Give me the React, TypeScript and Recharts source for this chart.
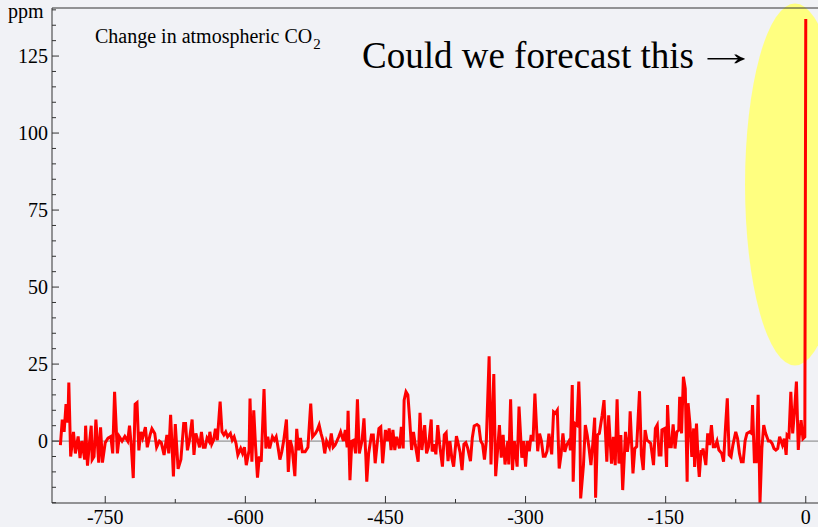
import React from "react";
import {
  LineChart,
  Line,
  XAxis,
  YAxis,
  ReferenceLine,
  ReferenceDot,
  Customized,
} from "recharts";

// years before present
const years = [
  -798, -796, -794, -792, -790, -789, -787, -784, -782, -779,
  -777, -775, -772, -771, -769, -767, -765, -764, -762, -760,
  -757, -755, -753, -750, -747, -744, -742, -740, -737, -735,
  -732, -729, -726, -724, -722, -720, -718, -716, -714, -712,
  -710, -707, -705, -702, -700, -697, -695, -692, -690, -687,
  -684, -682, -680, -677, -675, -672, -669, -666, -664, -662,
  -660, -657, -655, -653, -651, -649, -647, -645, -643, -641,
  -639, -638, -636, -634, -632, -630, -627, -625, -623, -621,
  -619, -616, -614, -612, -610, -608, -605, -603, -601, -599,
  -596, -595, -593, -591, -589, -587, -585, -583, -580, -578,
  -576, -574, -571, -569, -567, -565, -563, -561, -559, -556,
  -554, -552, -550, -547, -545, -543, -541, -539, -536, -533,
  -530, -528, -525, -523, -521, -519, -517, -515, -513, -510,
  -508, -506, -504, -502, -500, -498, -495, -493, -491, -490,
  -488, -486, -484, -482, -480, -478, -475, -473, -471, -470,
  -468, -465, -463, -461, -459, -457, -455, -453, -450, -448,
  -446, -444, -442, -440, -438, -435, -433, -431, -430, -428,
  -426, -424, -422, -420, -418, -415, -413, -411, -408, -406,
  -404, -401, -400, -398, -396, -394, -392, -389, -387, -385,
  -383, -381, -379, -377, -374, -372, -370, -368, -366, -364,
  -362, -359, -357, -355, -352, -350, -348, -346, -344, -342,
  -339, -337, -334, -332, -330, -328, -326, -324, -322, -319,
  -318, -316, -314, -312, -309, -307, -304, -302, -300, -298,
  -296, -294, -292, -290, -287, -285, -283, -281, -279, -277,
  -275, -272, -270, -268, -266, -264, -262, -260, -258, -256,
  -253, -252, -250, -249, -247, -245, -243, -242, -241, -238,
  -236, -234, -232, -230, -228, -226, -225, -223, -221, -218,
  -216, -215, -213, -211, -208, -206, -204, -202, -200, -198,
  -196, -193, -191, -189, -188, -185, -183, -181, -178, -176,
  -174, -172, -170, -168, -166, -163, -161, -159, -157, -155,
  -154, -151, -149, -148, -146, -144, -142, -140, -138, -136,
  -135, -133, -131, -129, -127, -126, -124, -122, -120, -119,
  -117, -115, -114, -112, -111, -110, -107, -105, -103, -101,
  -99, -97, -95, -93, -90, -88, -86, -84, -82, -80,
  -78, -75, -73, -71, -69, -67, -65, -63, -60, -58,
  -57, -55, -53, -51, -49, -47, -45, -43, -40, -38,
  -36, -34, -32, -30, -28, -25, -23, -21, -20, -18,
  -16, -14, -12, -10, -8, -7, -5, -3, -1, 0,
];

// change in atmospheric CO2, ppm
const co2Change = [
  -1.3, 7, 3, 12, 6, 19, -5, 3, -4, 1.5,
  -5.5, 0, -6, 5, -8, -1, 5, -6, -5, 7,
  -7, 4.5, -7, -0.5, 1, 1.5, -4, 16, -4, 1.5,
  0, 1.5, 0, 5, -2, -12, 12, 12.5, -3, 3,
  1, 4.5, -2, 2, 4, 2.5, -2, 0, -0.5, -4.5,
  2, -4, 8.5, -11.5, 5.5, -9, -6, 5.7, 5.7, -3,
  0, 7, -4.5, 2.5, 0.3, -2, 3, -2, -2, 1,
  0, 3, -1, 0.3, 4, 0.3, 12.8, 3, 2, 3,
  1.4, 2.5, 0.3, 1.4, -0.7, -4.5, -2.4, -4, -2, -7.8,
  -3, 13.8, -6.7, 10, -2, -11.9, -5, -6.7, 16.9, -2.4,
  1.4, -2.4, 1.4, 0.3, 1.4, -2, -6, -3.5, 0, 7,
  -10, 0.3, -2, -11.4, 4, -3, 1, -3.5, -3.5, -2,
  12.2, 1.4, 2.5, 3.6, 5.2, 2.5, 0.3, -4, 0, -2,
  2.5, -2, -1.3, 0, 1.4, 3, 0, 3.6, -2, 9.8,
  -12.7, 0, 0.3, -4, 13.6, -4, 0.3, 7.4, -5, -13.2,
  -4, 2, 2, -7.2, -1.3, 4.1, 4.6, -7.2, 3.6, 0,
  4.1, -2.9, 3.6, -2.9, 1.4, -2.4, 4.6, -2.4, 13.3, 16,
  15, 6.8, -2.9, 3, -1.3, -6.7, 9.2, -2.9, 5.2, -4,
  -2, 7, -3.4, -1, -4.3, 5.2, -1, -8.3, 2, 2.7,
  -6.5, 0, -5.4, -8.3, 1.6, -1, -3.8, -9.4, -1, -0.5,
  -2.2, -6.5, 1.1, 4.9, 5.4, 4.9, 0, -1, -6, 0,
  27.5, -7.6, 21.8, -11.4, -3.3, 5.2, -5.4, 2, -7.6, 0,
  -7.6, 13.6, -9.4, 0, -8.3, 11.2, -5.4, 0, -8.3, 0,
  -3.3, 2, 0, 15.4, -3.3, 2.4, 0, -4.9, -4.9, -3.3,
  2.4, -4.3, 9.5, 9, 10, -8.9, -4.5, 2.5, -3.5, -1.3,
  0.3, -3, 18.2, -13.2, 5.7, 5.2, 19.3, 10.6, -18.6, -7.8,
  5.2, 2, -2.4, -7.8, -0.8, 7.6, -18.4, 2, 2.5, 8.4,
  13.3, 6.3, -6.7, 8.4, -7.3, 1.4, -7.8, 13.6, -7.3, 2,
  -15.9, 3, -3.5, 1.4, 9.7, -10.5, -2.4, -1.8, 16.2, -4.5,
  -9.4, 3.6, 0.3, -0.2, -0.8, -7.8, 4.1, 5.2, -4.5, -4.5,
  3.6, 4.1, -8.4, 11.7, -1.8, -1.8, 5.4, -2.4, 3, 3.6,
  14.4, 2.5, 20.9, 17, -13.2, 12.3, 5.7, -5.1, 4.1, -8.4,
  5.7, -7.8, -11.6, -2.9, -4.5, -2.4, -7.8, 2.5, -1.3, 5.2,
  -1.8, -1.8, 0, -2.9, -4, -6.7, 4.1, 13.9, -4.5, -5.1,
  -1.3, 3, 0.8, -4, -6.7, -6.7, 0, 2.5, 3, 2.5,
  11.7, -6.7, -6.7, 15, -20, -2.4, 5.2, 2.5, 0, 0,
  -0.8, -2.4, -2.9, -2.4, 1.4, -1.3, 0.8, -4.5, 2, 1.4,
  16, 2.5, 10, 19.3, -2.9, 1.4, 6.8, 0.8, 1.4, 137,
];

const xTicks = [-750, -675, -600, -525, -450, -375, -300, -225, -150, -75, 0];
const xLabelled = [-750, -600, -450, -300, -150, 0];
const yTicks = [
  -20, -15, -10, -5, 0, 5, 10, 15, 20, 25, 30, 35, 40, 45, 50, 55, 60,
  65, 70, 75, 80, 85, 90, 95, 100, 105, 110, 115, 120, 125, 130, 135, 140,
];
const yLabelled = [0, 25, 50, 75, 100, 125];

// centre of the yellow highlight around the last point
const highlight = { year: -11.5, ppm: 83.3 };

const X_DOMAIN = [-807, 13.1];
const Y_DOMAIN = [-20.1, 140.6];

const data = years.map((year, i) => ({ year, ppm: co2Change[i] }));

const FONT = '"Liberation Serif", "Times New Roman", serif';
const BG = "#f1f2f6";
const AXIS = "#333";
const TICK_MARGIN = 4;

const XTick = (props: any) => {
  const { x, y, payload } = props;
  const major = xLabelled.includes(payload.value);
  const axisY = y - TICK_MARGIN;
  return (
    <g>
      <line x1={x} x2={x} y1={axisY} y2={axisY - (major ? 7 : 4)} stroke={AXIS} />
      {major && (
        <text x={x} y={axisY + 21} textAnchor="middle" fontFamily={FONT} fontSize={20} fill="#000">
          {payload.value}
        </text>
      )}
    </g>
  );
};

const YTick = (props: any) => {
  const { x, y, payload } = props;
  const major = yLabelled.includes(payload.value);
  const axisX = x + TICK_MARGIN;
  return (
    <g>
      <line x1={axisX} x2={axisX + (major ? 7 : 4)} y1={y} y2={y} stroke={AXIS} />
      {major && (
        <text x={x} y={y} dy="0.34em" textAnchor="end" fontFamily={FONT} fontSize={20} fill="#000">
          {payload.value}
        </text>
      )}
    </g>
  );
};

const Highlight = (props: any) => (
  <ellipse cx={props.cx} cy={props.cy} rx={50} ry={181} fill="#ffff80" />
);

const Annotations = () => (
  <g fontFamily={FONT} fill="#000">
    <text x={8} y={18} fontSize={20}>ppm</text>
    <text x={95} y={43} fontSize={20}>
      Change in atmospheric CO
      <tspan fontSize={15} dx={1} dy={6}>2</tspan>
    </text>
    <text x={362} y={68} fontSize={37}>Could we forecast this</text>
    {/* long thin arrow: stretch the glyph sideways */}
    <text transform="translate(695,65) scale(1.7,1)" fontSize={37}>→</text>
  </g>
);

const App = () => {
  return (
    <div style={{ position: "absolute", left: 0, top: 0, width: 818, height: 527, background: BG }}>
      <LineChart
        width={818}
        height={527}
        data={data}
        margin={{ top: 8, right: 0, bottom: 0, left: 0 }}
      >
        <XAxis
          dataKey="year"
          type="number"
          domain={X_DOMAIN}
          allowDataOverflow
          ticks={xTicks}
          interval={0}
          height={24}
          tickSize={0}
          tickMargin={TICK_MARGIN}
          tick={<XTick />}
          axisLine={{ stroke: AXIS }}
        />
        <YAxis
          type="number"
          domain={Y_DOMAIN}
          allowDataOverflow
          ticks={yTicks}
          interval={0}
          width={52}
          tickSize={0}
          tickMargin={TICK_MARGIN}
          tick={<YTick />}
          axisLine={{ stroke: AXIS }}
        />
        <ReferenceDot
          x={highlight.year}
          y={highlight.ppm}
          ifOverflow="visible"
          zIndex={-50}
          shape={<Highlight />}
        />
        <ReferenceLine y={Y_DOMAIN[1]} stroke={AXIS} />
        <ReferenceLine y={0} stroke="#808080" />
        <Line
          type="linear"
          dataKey="ppm"
          stroke="#ff0000"
          strokeWidth={3}
          dot={false}
          isAnimationActive={false}
        />
        <Customized component={Annotations} />
      </LineChart>
    </div>
  );
};

export default App;
